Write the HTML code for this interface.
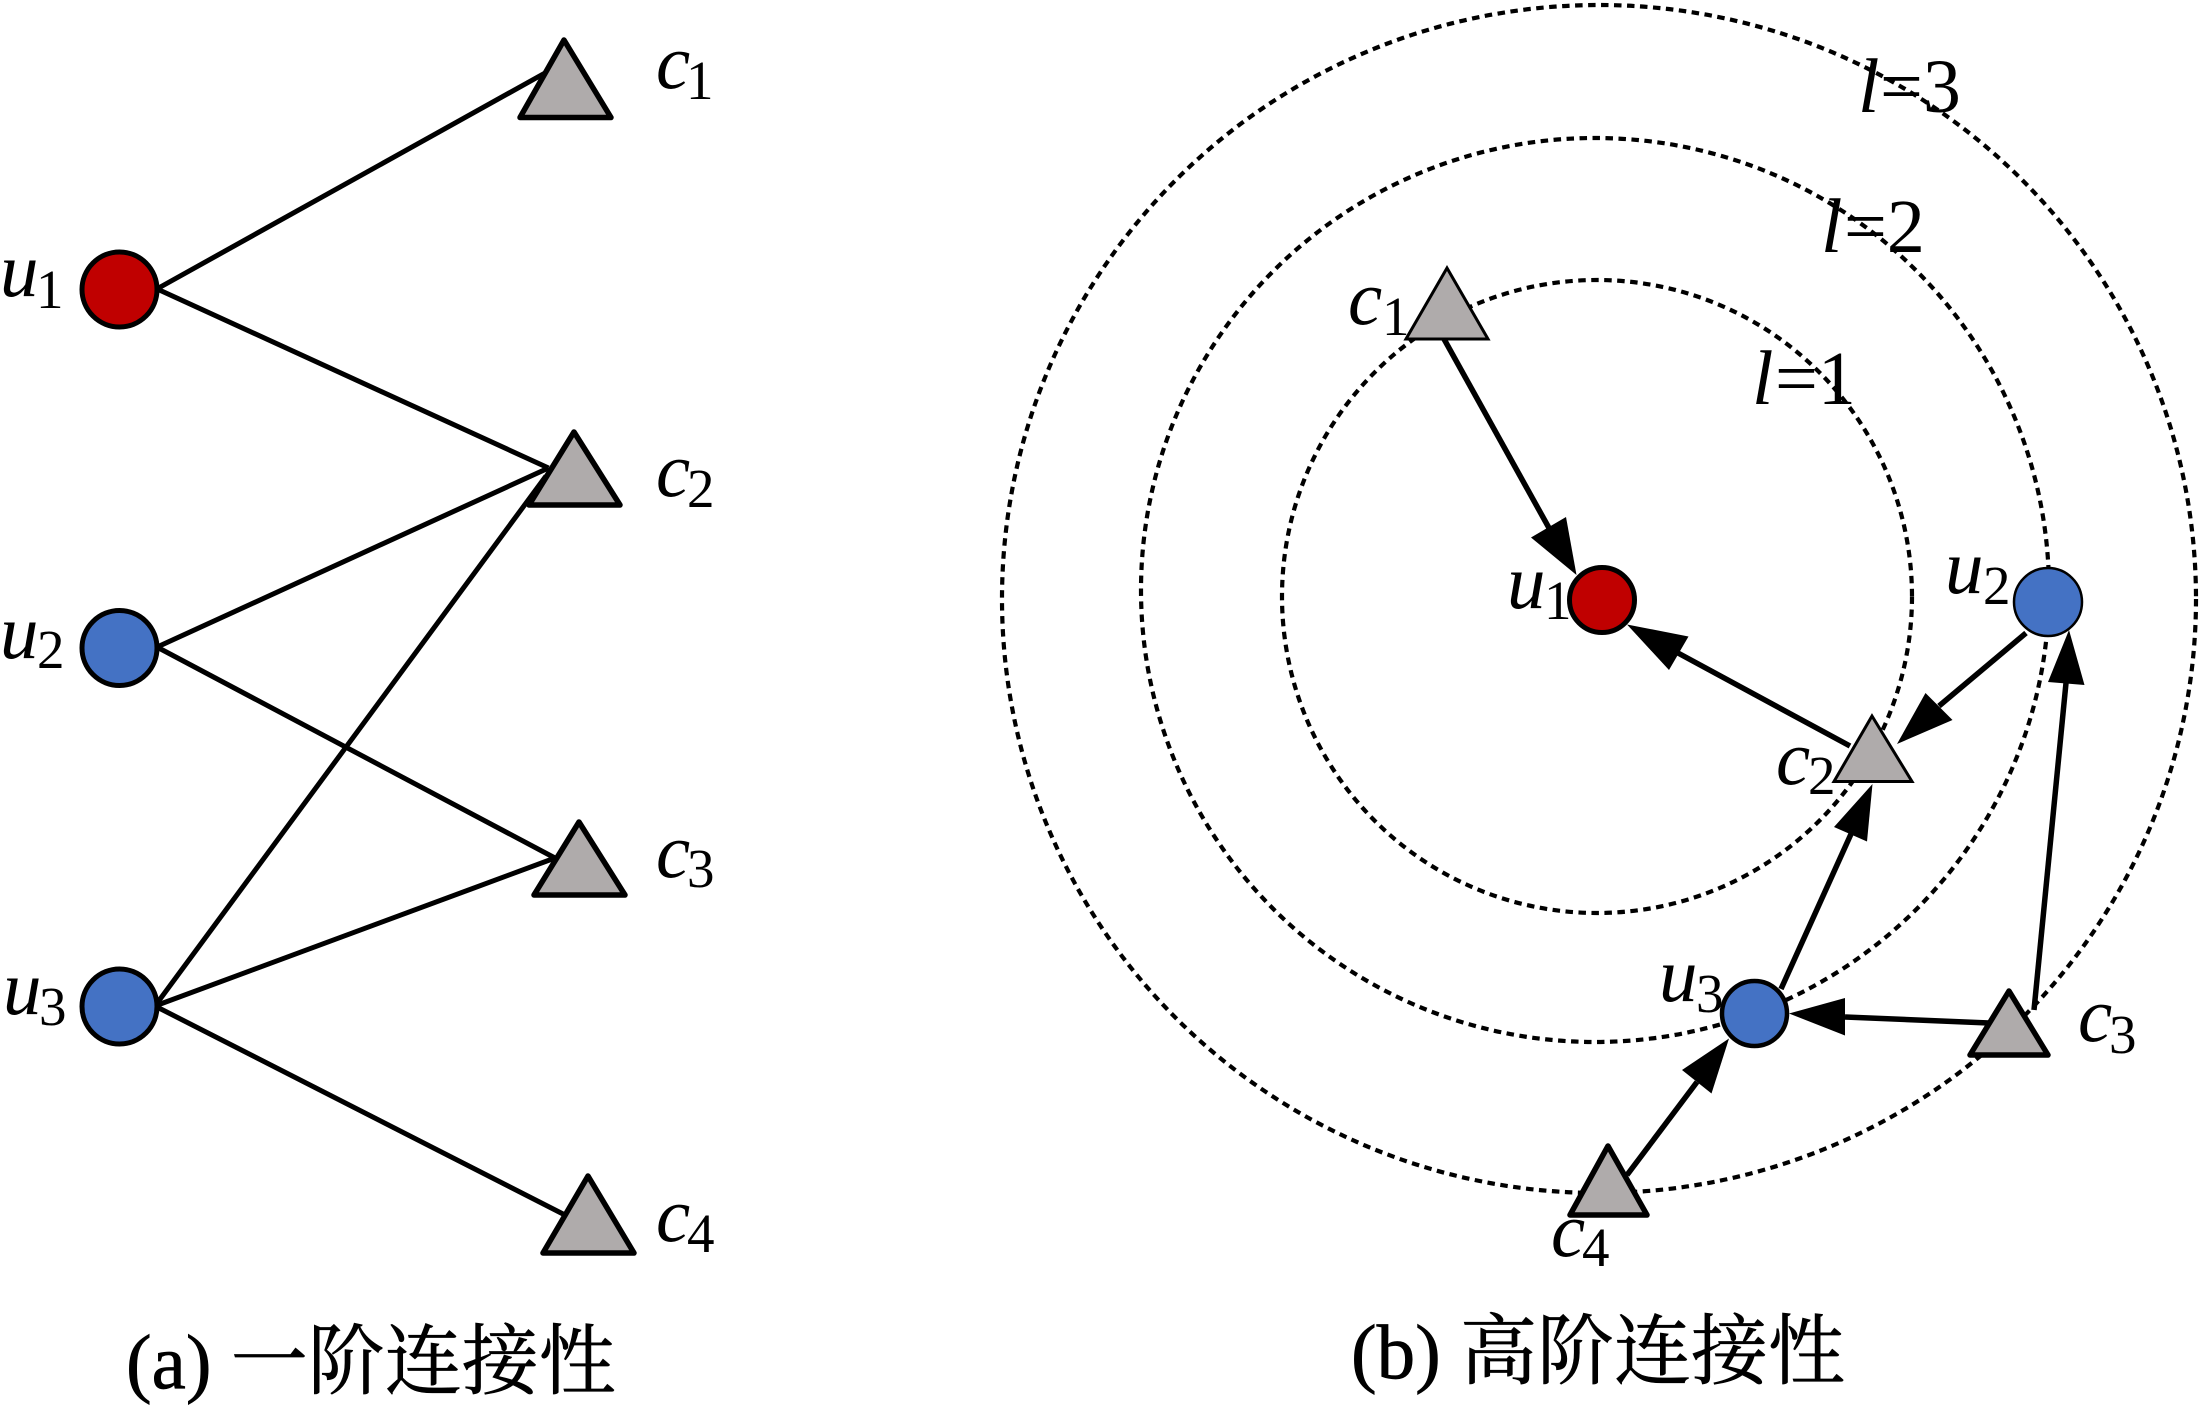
<!DOCTYPE html>
<html><head><meta charset="utf-8"><style>
html,body{margin:0;padding:0;background:#fff}
svg{display:block}
text{font-family:"Liberation Serif","Noto Serif CJK SC",serif;fill:#000}
.v{font-style:italic;font-size:77px}
.s{font-size:55px}
.n{font-size:76px}
.cap{font-size:77px;stroke:#000;stroke-width:.7}
.ln{stroke:#000;stroke-width:5;fill:none}
.al{stroke:#000;stroke-width:5.5;fill:none}
.d{stroke:#000;stroke-width:4.2;fill:none;stroke-dasharray:7.5 5.5}
.t{fill:#AFABAB;stroke:#000;stroke-width:5.5;stroke-linejoin:round}
.t2{fill:#AFABAB;stroke:#000;stroke-width:3;stroke-linejoin:miter}
</style></head><body>
<svg width="2204" height="1408" viewBox="0 0 2204 1408" xmlns="http://www.w3.org/2000/svg">
<rect width="2204" height="1408" fill="#fff"/>
<!-- (a) -->
<g class="ln">
<line x1="155" y1="290" x2="545" y2="73"/>
<line x1="155" y1="288" x2="548.5" y2="468"/>
<line x1="155" y1="648" x2="548.5" y2="468"/>
<line x1="155" y1="646" x2="555" y2="858"/>
<line x1="155" y1="1006" x2="555" y2="858"/>
<line x1="155" y1="1006" x2="546" y2="476"/>
<line x1="155" y1="1006" x2="565" y2="1215"/>
</g>
<polygon class="t" points="564,40 520,117.5 611,117.5"/>
<polygon class="t" points="574,432 529,505 620,505"/>
<polygon class="t" points="579,822 534,895 625,895"/>
<polygon class="t" points="588,1176 543,1253 634,1253"/>
<ellipse cx="119.5" cy="289.5" rx="37.5" ry="37.5" fill="#C00000" stroke="#000" stroke-width="5"/>
<ellipse cx="119.5" cy="648" rx="37.5" ry="37.5" fill="#4472C4" stroke="#000" stroke-width="5"/>
<ellipse cx="119.5" cy="1006.5" rx="37.5" ry="37.5" fill="#4472C4" stroke="#000" stroke-width="5"/>

<text class="v" x="656" y="88">c</text><text class="s" x="686" y="99">1</text>
<text class="v" x="656" y="496">c</text><text class="s" x="687" y="507">2</text>
<text class="v" x="656" y="877">c</text><text class="s" x="687" y="887">3</text>
<text class="v" x="656" y="1241">c</text><text class="s" x="687" y="1252">4</text>
<text class="v" x="0" y="296">u</text><text class="s" x="36" y="308">1</text>
<text class="v" x="0" y="658">u</text><text class="s" x="37" y="668">2</text>
<text class="v" x="3" y="1014">u</text><text class="s" x="39" y="1025">3</text>
<text class="cap" x="126" y="1388">(a) 一阶连接性</text>

<!-- (b) -->
<ellipse class="d" cx="1597" cy="596.5" rx="315" ry="316.5"/>
<ellipse class="d" cx="1595" cy="590" rx="454" ry="452"/>
<ellipse class="d" cx="1599" cy="599" rx="597" ry="594"/>
<text class="v" x="1752" y="404">l</text><text class="n" x="1775" y="404">=1</text>
<text class="v" x="1821" y="252">l</text><text class="n" x="1844" y="252">=2</text>
<text class="v" x="1858" y="112">l</text><text class="n" x="1880" y="112">=3</text>

<g class="al">
<line x1="1444" y1="339" x2="1549" y2="528"/>
<line x1="1850" y1="746" x2="1678" y2="653"/>
<line x1="2026" y1="633" x2="1939" y2="706"/>
<line x1="2034" y1="1010" x2="2066" y2="683"/>
<line x1="1781" y1="989" x2="1851" y2="834"/>
<line x1="1989" y1="1023" x2="1845" y2="1017"/>
<line x1="1627" y1="1175" x2="1697" y2="1082"/>
</g>
<g fill="#000">
<polygon points="1576.5,575 1531,537.5 1566,517"/>
<polygon points="1627,624.5 1669,670 1688.5,636.5"/>
<polygon points="1897,744 1925.5,693 1952.5,720"/>
<polygon points="2069,630 2048,682 2084.5,685"/>
<polygon points="1872.5,784 1834,827 1867,841.5"/>
<polygon points="1789,1013.5 1845,998 1845,1035.5"/>
<polygon points="1729,1038.5 1682,1070 1711.5,1093.5"/>
</g>
<polygon class="t2" points="1447,268 1406,339 1488,339"/>
<polygon class="t2" points="1872,716 1834,781.5 1912,781.5"/>
<polygon class="t" points="2009,991 1970,1055 2048,1055"/>
<polygon class="t" points="1608,1146 1570,1215 1647,1215"/>
<circle cx="1602" cy="600" r="32.5" fill="#C00000" stroke="#000" stroke-width="5"/>
<circle cx="2048" cy="602" r="34" fill="#4472C4" stroke="#000" stroke-width="2.5"/>
<circle cx="1754.5" cy="1013.5" r="32.5" fill="#4472C4" stroke="#000" stroke-width="4.5"/>

<text class="v" x="1507" y="608">u</text><text class="s" x="1544" y="619">1</text>
<text class="v" x="1945" y="593">u</text><text class="s" x="1983" y="604">2</text>
<text class="v" x="1659" y="1001">u</text><text class="s" x="1696" y="1012">3</text>
<text class="v" x="1348" y="324">c</text><text class="s" x="1382" y="335">1</text>
<text class="v" x="1776" y="784">c</text><text class="s" x="1808" y="794">2</text>
<text class="v" x="2078" y="1041">c</text><text class="s" x="2109" y="1053">3</text>
<text class="v" x="1551" y="1256">c</text><text class="s" x="1582" y="1266">4</text>
<text class="cap" x="1351" y="1378">(b) 高阶连接性</text>
</svg>
</body></html>
